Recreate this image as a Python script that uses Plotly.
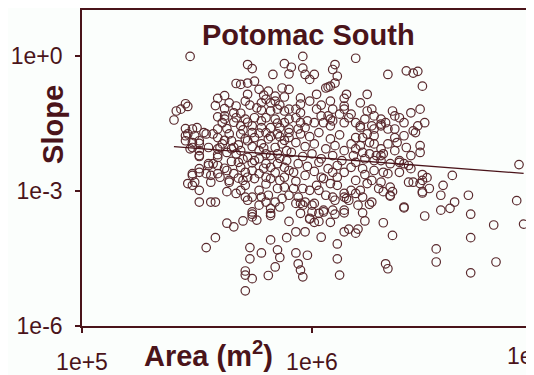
import plotly.graph_objects as go

# log10(Area, m^2) and log10(Slope)
log10_area = [
5.47,5.72,5.74,5.88,5.83,5.67,5.69,5.72,5.75,5.87,5.62,5.59,5.72,5.79,5.84,5.80,5.58,5.62,5.67,5.45,
5.46,5.41,5.40,5.45,5.50,5.59,5.62,5.76,5.78,5.82,5.85,5.88,5.90,5.75,5.80,5.84,5.88,5.71,5.67,5.69,
5.74,5.78,5.82,5.86,5.90,5.82,5.43,5.48,5.53,5.46,5.45,5.48,5.51,5.57,5.59,5.61,5.62,5.66,5.48,5.51,
5.51,5.55,5.60,5.59,5.63,5.66,5.55,5.57,5.59,5.54,5.51,5.48,5.46,5.49,5.56,5.64,5.63,5.45,5.49,5.54,
5.47,5.51,5.51,5.59,5.59,5.55,5.51,5.48,5.59,5.56,5.48,5.51,5.63,5.67,5.64,5.51,5.56,5.58,5.69,5.71,
5.72,5.74,5.70,5.71,5.72,5.75,5.77,5.78,5.81,5.84,5.80,5.77,5.86,5.82,5.74,5.68,5.69,5.71,5.74,5.77,
5.80,5.82,5.86,5.88,5.88,5.85,5.90,5.87,5.59,5.61,5.65,5.67,5.69,5.72,5.75,5.77,5.80,5.82,5.85,5.88,
5.72,5.75,5.78,5.81,5.84,5.87,5.89,5.77,5.80,5.82,5.85,5.69,5.74,5.80,5.85,5.90,5.65,5.64,
5.63,5.66,5.70,5.74,5.76,5.82,5.90,5.58,5.54,5.73,5.82,5.89,5.78,5.73,5.85,5.86,5.84,5.81,5.71,5.71,
5.74,5.71,5.74,
5.93,5.97,5.99,6.01,6.03,6.04,6.08,6.11,6.14,6.16,6.19,6.20,6.23,6.31,6.35,6.32,6.33,5.93,5.98,5.94,
5.95,5.96,6.11,6.12,
6.68,6.89,6.62,6.60,6.56,6.49,6.40,6.69,6.79,6.92,6.69,6.54,6.54,6.80,6.69,6.25,6.22,6.14,6.10,6.48,
6.34,6.31,6.19,6.15,6.14,6.09,6.05,6.03,6.00,5.99,5.95,5.95,5.82,5.93,5.96,6.00,
6.47,6.47,6.45,6.90,6.48,6.50,6.47,6.48,6.61,6.57,
6.46,6.48,6.47,6.49,6.46,
5.96,6.19,5.91,5.90,5.96,5.97,5.99,6.01,6.10,6.09,6.11,6.10,6.07,6.33,6.41,6.44,6.02,6.15,6.14,6.24,
6.08,5.95,6.35,6.36,6.38,6.30,6.44,6.40,6.21,6.24,6.27,6.30,6.33,6.36,6.27,6.30,6.33,6.37,6.41,6.38,
6.40,6.42,6.44,6.48,6.14,6.17,6.09,6.07,6.24,6.27,
6.06,6.08,5.95,5.93,5.93,6.02,6.04,6.09,6.12,6.16,6.14,6.21,6.26,6.30,5.98,6.01,6.05,6.08,5.97,5.94,
6.33,6.42,6.40,6.34,6.35,6.34,6.29,6.30,6.26,6.24,6.22,6.26,6.17,6.14,6.16,6.09,6.11,6.08,6.11,6.04,
6.02,5.99,5.96,5.94,5.97,6.01,6.05,6.09,6.14,6.17,6.19,6.23,6.27,6.30,6.34,6.38,6.22,6.27,6.31,6.22,
6.25,6.27,6.31,6.17,6.19,6.18,6.22,6.25,6.28,
5.95,5.99,6.03,6.08,6.12,5.93,5.97,6.01,6.06,6.10,6.14,5.91,5.96,6.00,6.04,6.09,6.13,5.94,5.98,6.03,
6.07,6.11,5.92,5.97,6.01,6.05,6.14,5.93,5.89,5.90,
5.77,5.81,5.90,5.71,5.84,5.88,5.99,6.04,6.14,6.21,6.26,5.95,6.08,6.19,6.23,6.32,6.36,6.40,6.43,5.95,
5.90,5.90,5.86,5.71,
6.19,6.21,6.30,6.36,6.43,6.38,6.43,6.19,6.23,6.21,6.06,6.03,6.10,6.20,6.51,6.56,
5.64,5.69,5.73,5.78,5.86,5.66,5.72,5.78,5.85,5.63,5.70,5.77,5.82,5.88,5.62,5.68,5.74,5.79,5.86,5.70,
5.65,5.62,5.66,5.74,5.79,5.84,5.68,5.80,5.92,5.60,
]
log10_slope = [
-0.02,-0.20,-0.29,-0.18,-0.42,-0.62,-0.64,-0.61,-0.57,-0.72,-0.89,-0.95,-0.86,-0.88,-0.90,-0.97,-1.11,-1.18,-1.12,-1.07,
-1.13,-1.23,-1.43,-1.62,-1.60,-1.36,-1.41,-1.16,-1.21,-1.23,-1.19,-1.23,-1.19,-1.38,-1.38,-1.41,-1.49,-1.41,-1.38,-1.56,
-1.56,-1.60,-1.60,-1.60,-1.63,-1.05,-1.19,-1.63,-1.71,-1.74,-1.89,-1.93,-1.89,-1.74,-1.63,-1.49,-1.34,-1.27,-2.04,-2.11,
-2.24,-2.04,-2.04,-2.20,-2.15,-2.04,-2.44,-2.40,-2.62,-2.62,-2.59,-2.66,-2.84,-2.81,-2.81,-2.81,-2.55,-1.78,-1.78,-1.74,
-2.07,-2.22,-1.95,-2.07,-2.26,-2.40,-2.51,-2.62,-2.44,-2.66,-2.88,-2.99,-3.02,-3.06,-2.77,-3.25,-3.25,-3.25,-2.99,-3.14,
-3.21,-3.14,-2.77,-2.88,-2.70,-2.73,-2.99,-3.14,-3.10,-3.25,-3.25,-3.32,-3.36,-3.39,-3.47,-2.37,-2.48,-2.59,-2.55,-2.62,
-2.70,-2.73,-2.77,-2.70,-2.92,-2.95,-3.10,-3.17,-1.82,-1.96,-1.89,-2.18,-2.11,-2.26,-2.33,-2.29,-2.40,-2.48,-2.40,-2.48,
-1.89,-1.82,-1.96,-1.85,-2.04,-1.96,-2.11,-2.11,-2.18,-2.22,-2.18,-1.74,-1.71,-1.71,-1.74,-1.82,-2.07,-1.74,
-3.72,-3.80,-3.67,-3.58,-3.65,-3.55,-3.68,-4.04,-4.26,-4.26,-4.09,-4.04,-4.38,-4.51,-4.31,-4.48,-4.69,-4.88,-4.78,-4.87,
-4.95,-5.22,-3.52,
-3.91,-3.91,-3.63,-3.70,-3.68,-4.03,-3.70,-4.18,-3.91,-3.85,-3.94,-3.85,-3.67,-3.71,-3.99,-4.62,-4.73,-4.38,-4.43,-4.62,
-4.76,-4.91,-4.51,-4.87,
-3.10,-3.22,-3.25,-3.39,-3.43,-3.56,-3.38,-3.52,-3.76,-3.74,-4.04,-4.29,-4.58,-4.58,-4.82,-3.30,-3.49,-3.49,-3.52,-3.05,
-3.10,-3.02,-3.06,-3.17,-3.06,-3.14,-3.47,-3.50,-3.47,-3.61,-3.50,-3.28,-3.50,-3.28,-3.32,-3.32,
-2.00,-2.15,-1.71,-2.42,-2.64,-2.71,-2.84,-3.02,-2.66,-2.88,
-0.35,-0.68,-1.19,-1.49,-1.56,
-0.02,-0.06,-0.26,-0.41,-0.28,-0.42,-0.53,-0.42,-0.20,-0.31,-0.46,-0.61,-0.70,-0.42,-0.34,-0.39,-0.86,-0.86,-0.95,-0.86,
-1.01,-0.94,-1.23,-1.34,-1.38,-1.41,-1.67,-1.78,-1.60,-1.74,-1.63,-1.52,-1.63,-1.82,-1.96,-2.07,-1.96,-1.93,-2.04,-2.33,
-2.40,-2.44,-2.81,-2.77,-1.19,-1.30,-1.45,-1.34,-1.23,-1.34,
-0.72,-0.68,-1.08,-1.19,-1.38,-1.19,-1.34,-1.19,-1.30,-1.38,-1.49,-1.56,-1.56,-1.56,-1.45,-1.49,-1.49,-1.56,-1.60,-1.63,
-2.62,-2.81,-3.36,-2.92,-3.02,-3.12,-2.95,-2.81,-2.77,-2.84,-3.14,-3.25,-2.99,-3.14,-3.21,-2.59,-2.70,-2.84,-2.88,-2.70,
-2.88,-2.99,-2.95,-3.14,-3.25,-3.28,-3.43,-3.43,-3.43,-2.48,-2.37,-2.29,-2.33,-2.33,-2.40,-2.37,-2.51,-2.55,-2.59,-1.82,
-1.93,-1.78,-2.18,-1.96,-2.07,-2.22,-2.15,-2.18,-2.22,
-1.74,-1.80,-1.71,-1.85,-1.76,-1.93,-2.02,-1.96,-2.07,-2.00,-2.11,-2.15,-2.24,-2.18,-2.29,-2.22,-2.33,-2.40,-2.46,-2.37,
-2.51,-2.44,-2.59,-2.66,-2.57,-2.73,-2.59,-2.79,-2.33,-2.55,
-0.75,-0.79,-0.75,-1.01,-1.01,-0.92,-1.01,-1.10,-1.12,-1.05,-1.19,-1.27,-1.41,-1.49,-1.41,-1.49,-1.63,-1.49,-1.27,-1.49,
-1.41,-1.71,-1.80,-1.85,
-1.82,-2.00,-2.22,-2.11,-2.22,-2.59,-2.51,-2.77,-2.64,-2.99,-3.10,-2.99,-3.21,-3.32,-2.95,-3.10,
-1.05,-1.28,-1.10,-1.05,-1.10,-1.48,-1.48,-1.45,-1.50,-1.62,-1.65,-1.72,-1.80,-1.88,-1.88,-1.98,-2.02,-2.05,-2.28,-2.30,
-2.35,-2.50,-2.62,-2.38,-2.50,-2.60,-2.72,-2.85,-2.95,-2.70,
]

# regression line end points (Area m^2, Slope)
trend_area = [2.51e5, 8.32e6]
trend_slope = [9.55e-3, 2.43e-3]

x_tick_vals = [1e5, 1e6]
x_tick_text = ["1e+5", "1e+6"]
y_tick_vals = [1e0, 1e-3, 1e-6]
y_tick_text = ["1e+0", "1e-3", "1e-6"]

area = [10 ** v for v in log10_area]
slope = [10 ** v for v in log10_slope]

INK = "#4a141a"
FONT = "Liberation Sans, Arial, sans-serif"

fig = go.Figure()
fig.add_trace(go.Scatter(
    x=area, y=slope, mode="markers",
    marker=dict(symbol="circle-open", size=8.5, color="#5a2a2e", line=dict(width=1.2)),
    hoverinfo="skip", showlegend=False,
))
fig.add_trace(go.Scatter(
    x=trend_area, y=trend_slope, mode="lines",
    line=dict(color=INK, width=1.3), showlegend=False, hoverinfo="skip",
))

# page body has an 8px margin, so the figure starts at (8, 8)
fig.update_layout(
    width=526, height=367,
    margin=dict(l=74, r=0, t=0, b=48),
    paper_bgcolor="#fbfefc", plot_bgcolor="#fbfefc",
    font=dict(family=FONT, color=INK, size=23),
    showlegend=False,
)
fig.update_xaxes(
    type="log", range=[5, 5 + 452 / 230],
    tickvals=x_tick_vals, ticktext=x_tick_text,
    ticks="outside", ticklen=5, tickwidth=1.5, tickcolor=INK,
    showline=True, linecolor=INK, linewidth=1.6, mirror=True,
    showgrid=False, zeroline=False,
    ticklabelstandoff=10,
    tickfont=dict(size=23, color=INK, family=FONT),
)
fig.update_yaxes(
    type="log", range=[-6, 1.01],
    tickvals=y_tick_vals, ticktext=y_tick_text,
    ticks="outside", ticklen=5, tickwidth=1.5, tickcolor=INK,
    showline=True, linecolor=INK, linewidth=1.6, mirror=False,
    showgrid=False, zeroline=False,
    ticklabelstandoff=8,
    tickfont=dict(size=23, color=INK, family=FONT),
)

# 1e+7 label sits just past the right edge of the view
fig.add_annotation(xref="paper", yref="paper", x=(533 - 82) / 452, y=-30 / 319,
                   text="1e+7", showarrow=False, xanchor="center", yanchor="middle",
                   font=dict(size=23, color=INK, family=FONT))
fig.add_annotation(xref="paper", yref="paper", x=0.5, y=0.922,
                   text="<b>Potomac South</b>", showarrow=False,
                   xanchor="center", yanchor="middle",
                   font=dict(size=29, color=INK, family=FONT))
fig.add_annotation(xref="paper", yref="paper", x=(53 - 82) / 452, y=(327 - 124) / 319,
                   text="<b>Slope</b>", showarrow=False, textangle=-90,
                   xanchor="center", yanchor="middle",
                   font=dict(size=29, color=INK, family=FONT))
fig.add_annotation(xref="paper", yref="paper", x=(208 - 82) / 452, y=(327 - 355) / 319,
                   text="<b>Area (m<sup>2</sup>)</b>", showarrow=False,
                   xanchor="center", yanchor="middle",
                   font=dict(size=29, color=INK, family=FONT))

fig.write_html("out.html")
